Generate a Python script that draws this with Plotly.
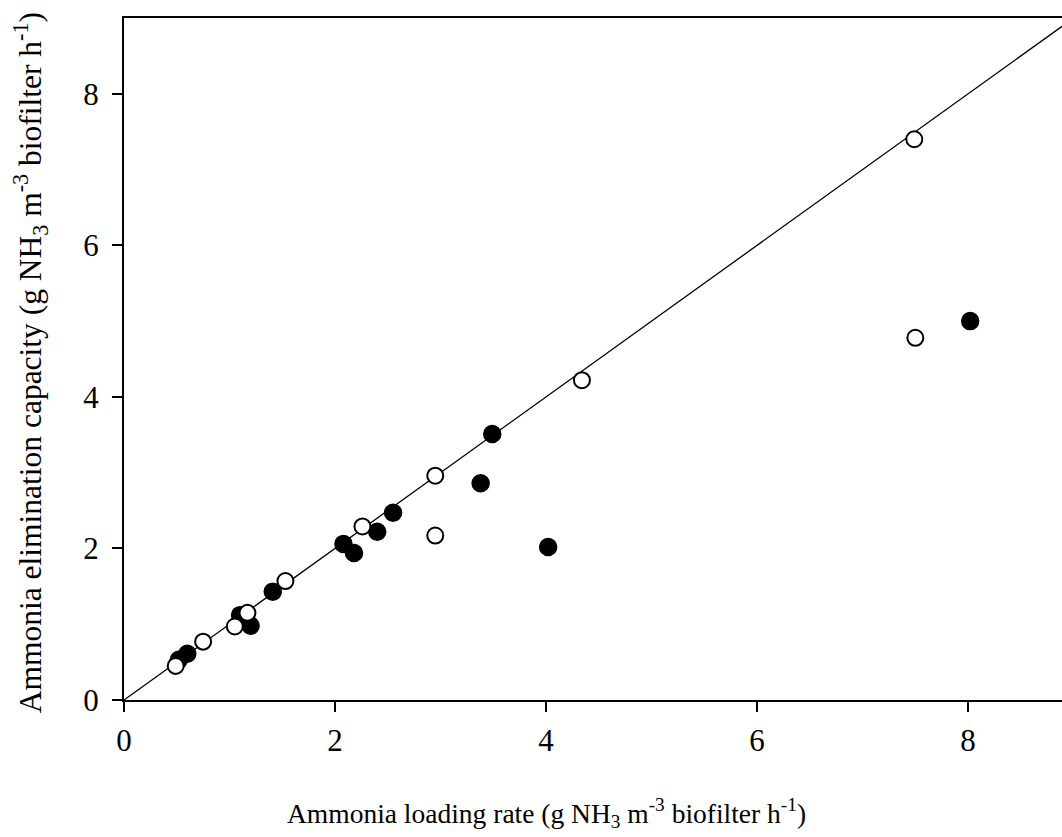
import plotly.graph_objects as go

# Filled circles
filled_x = [0.52, 0.60, 1.10, 1.20, 1.41, 2.08, 2.18, 2.40, 2.55, 3.38, 3.49, 4.02, 8.02]
filled_y = [0.53, 0.61, 1.12, 0.98, 1.43, 2.06, 1.94, 2.22, 2.47, 2.86, 3.51, 2.02, 5.00]

# Open circles
open_x = [0.49, 0.75, 1.05, 1.17, 1.53, 2.26, 2.95, 2.95, 4.34, 7.49, 7.50]
open_y = [0.45, 0.77, 0.97, 1.15, 1.57, 2.29, 2.96, 2.17, 4.22, 7.40, 4.78]

# 1:1 line
line_x = [0, 9]
line_y = [0, 9]

tick_vals = [0, 2, 4, 6, 8]
tick_text = ["0", "2", "4", "6", "8"]

x_title = "Ammonia loading rate (g NH<sub>3</sub> m<sup>-3</sup> biofilter h<sup>-1</sup>)"
y_title = "Ammonia elimination capacity (g NH<sub>3</sub> m<sup>-3</sup> biofilter h<sup>-1</sup>)"

FONT = "Liberation Serif, Times New Roman, serif"

fig = go.Figure()
fig.add_trace(go.Scatter(x=line_x, y=line_y, mode="lines",
                         line=dict(color="black", width=1.3), hoverinfo="skip"))
fig.add_trace(go.Scatter(x=filled_x, y=filled_y, mode="markers",
                         marker=dict(size=17, color="black",
                                     line=dict(color="black", width=1.5))))
fig.add_trace(go.Scatter(x=open_x, y=open_y, mode="markers",
                         marker=dict(size=16, color="white",
                                     line=dict(color="black", width=2))))

axis_common = dict(
    showgrid=False, zeroline=False, showline=True, linecolor="black", linewidth=2,
    ticks="outside", ticklen=10, tickwidth=2, tickcolor="black",
    tickvals=tick_vals, ticktext=tick_text,
    tickfont=dict(family=FONT, size=31, color="black"),
)

fig.update_layout(
    width=1062, height=837,
    margin=dict(l=124, r=0, t=18, b=137),
    paper_bgcolor="white", plot_bgcolor="white",
    showlegend=False,
    font=dict(family=FONT, color="black"),
    xaxis=dict(range=[0, 8.89], mirror=True, ticklabelstandoff=2, **axis_common),
    yaxis=dict(range=[0, 9], ticklabelstandoff=7, **axis_common),
    annotations=[
        dict(text=x_title, xref="paper", yref="paper", x=0.45, y=-0.165,
             xanchor="center", yanchor="middle", showarrow=False,
             font=dict(family=FONT, size=27.5, color="black")),
        dict(text=y_title, xref="paper", yref="paper", x=-0.100, y=0.494,
             xanchor="center", yanchor="middle", showarrow=False, textangle=-90,
             font=dict(family=FONT, size=31.5, color="black")),
    ],
)

fig.write_html("out.html")
